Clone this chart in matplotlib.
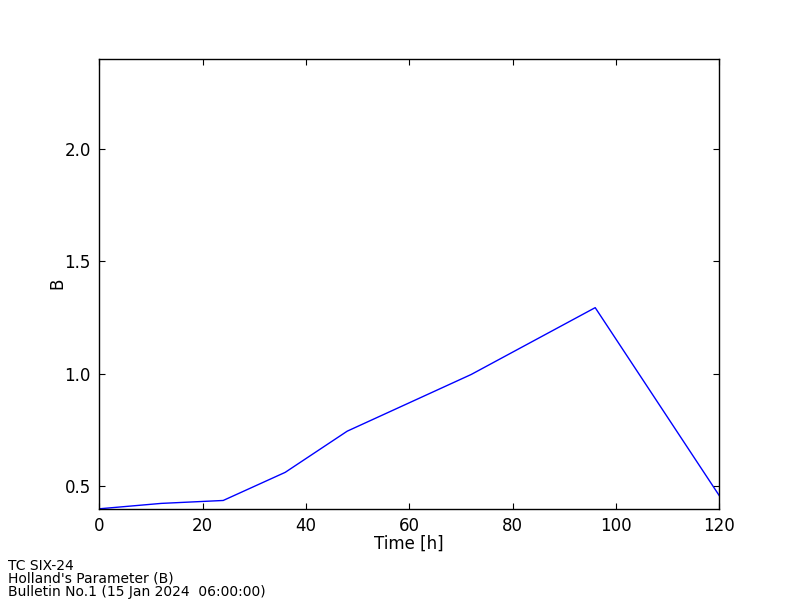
import matplotlib
matplotlib.use('Agg')
import matplotlib.pyplot as plt

# forecast hours and Holland B parameter
hours = [0, 12, 24, 36, 48, 72, 96, 120]
b_vals = [0.40, 0.424, 0.437, 0.562, 0.745, 0.997, 1.294, 0.459]

info_lines = ['TC SIX-24', "Holland's Parameter (B)", 'Bulletin No.1 (15 Jan 2024  06:00:00)']

plt.rcParams['font.family'] = 'DejaVu Sans'
plt.rcParams['font.size'] = 12

fig = plt.figure(figsize=(8, 6), dpi=100)
ax = fig.add_axes([0.124, 0.152, 0.775, 0.75])

ax.plot(hours, b_vals, color='blue', linewidth=1)
ax.set_xlim(0, 120)
ax.set_ylim(0.4, 2.4)
ax.set_xticks([0, 20, 40, 60, 80, 100, 120])
ax.set_yticks([0.5, 1.0, 1.5, 2.0])
ax.tick_params(direction='in', length=4, top=True, right=True, pad=6)
ax.set_xlabel('Time [h]', labelpad=0)
ax.set_ylabel('B', labelpad=-1)
for s in ax.spines.values():
    s.set_linewidth(1)

fig.text(0.01, 0.002, '\n'.join(info_lines), fontsize=10, ha='left', va='bottom', linespacing=0.9)

fig.savefig('out.png', dpi=100)
